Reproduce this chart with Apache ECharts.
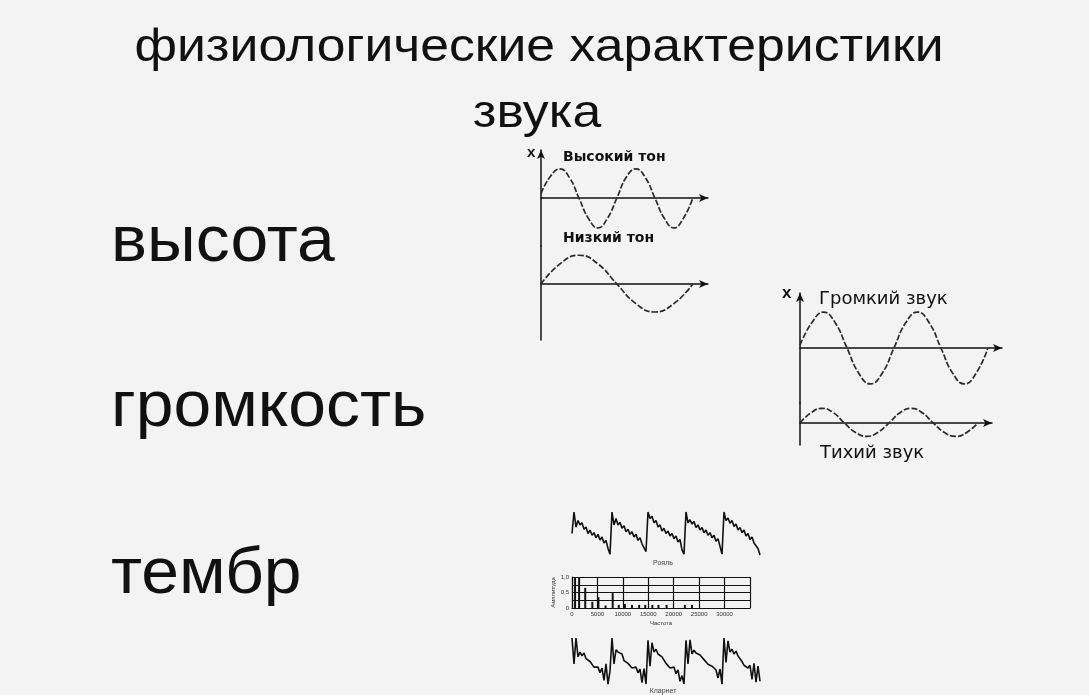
<!DOCTYPE html>
<html>
<head>
<meta charset="utf-8">
<title>физиологические характеристики звука</title>
<script src="https://cdn.jsdelivr.net/npm/echarts@6/dist/echarts.min.js"></script>
<style>
  html, body { margin: 0; padding: 0; background: #f3f3f3; }
  #main { width: 1089px; height: 695px; }
</style>
</head>
<body>
<div id="main"></div>
<script>
// --- данные ---
// высокий / низкий тон, время в периодах высокого тона
const highToneT = [0, 0.125, 0.25, 0.375, 0.5, 0.625, 0.75, 0.875, 1, 1.125, 1.25, 1.375, 1.5, 1.625, 1.75, 1.875, 2];
const highToneX = [0.15, 0.75, 1, 0.7, 0, -0.7, -1.03, -0.7, 0, 0.72, 1, 0.7, 0, -0.7, -1.03, -0.7, 0];
const lowToneT = [0, 0.25, 0.5, 0.75, 1, 1.25, 1.5, 1.75, 2];
const lowToneX = [0, 0.72, 1.03, 0.72, 0, -0.7, -1, -0.7, 0];

// громкий / тихий звук
const loudT = [0, 0.125, 0.25, 0.375, 0.5, 0.625, 0.75, 0.875, 1, 1.125, 1.25, 1.375, 1.5, 1.625, 1.75, 1.875, 2];
const loudX = [0.08, 0.7, 1, 0.7, 0, -0.7, -1, -0.7, 0, 0.7, 1, 0.7, 0, -0.7, -1, -0.7, 0];
const quietT = [0, 0.125, 0.25, 0.375, 0.5, 0.625, 0.75, 0.875, 1, 1.125, 1.25, 1.375, 1.5, 1.625, 1.75, 1.875, 2];
const quietX = [0, 0.29, 0.41, 0.29, 0, -0.26, -0.37, -0.26, 0, 0.29, 0.41, 0.29, 0, -0.26, -0.37, -0.26, 0];

// тембр: осциллограммы (шаг ~2 px), 0 = низ, 10 = верх
const pianoWave = [
  5, 10, 6.5, 8, 7, 7.5, 6, 6.5, 5, 5.8, 4.6, 5.2, 4, 4.8, 3.5, 4.2, 2.8, 3.4, 1.5, 0.2,
  10, 7, 8.5, 7, 7.6, 6.2, 6.8, 5.4, 6, 4.8, 5.4, 4.2, 4.8, 3.4, 4, 2.6, 3, 0.8,
  10, 8.5, 9, 7.5, 8, 6.5, 7, 5.6, 6.2, 5, 5.6, 4.4, 5, 3.8, 4.4, 3, 3.6, 1.2, 0.2,
  10, 7.5, 8.2, 7.2, 7.8, 6.4, 7, 5.8, 6.4, 5.2, 5.8, 4.6, 5.2, 4, 4.6, 3.2, 3.8, 2, 0.2,
  10, 8, 8.6, 7.4, 8, 6.6, 7.2, 5.8, 6.4, 5.2, 5.8, 4.4, 5, 3.6, 4.2, 2.8, 3.2, 1.5, 0
];
const clarinetWave = [
  10, 4.5, 10, 6, 7, 6.2, 6.8, 5.6, 5.8, 5, 4.8, 3.8, 3.4, 3.8, 2.6, 3.6, 1, 4.5, 0.2, 3,
  10, 4.5, 7.5, 7, 6.6, 6.6, 5.2, 5, 4.6, 4.6, 3.6, 3.2, 3.8, 2.6, 3.4, 0.5, 3.5, 0.2,
  9.5, 4, 9, 7, 7.6, 6.6, 7, 6, 5.6, 4.6, 4.4, 3.6, 3.2, 3.8, 2.4, 3.2, 0.8, 2, 0.2,
  9.5, 4.5, 9.6, 6.6, 7.4, 6.8, 7.2, 6.4, 6, 5.4, 5.6, 4.4, 4.6, 4, 3.6, 3.2, 1.5, 3.4, 0.2,
  10, 4.8, 9.4, 7, 7.6, 6.6, 7.2, 6.2, 5.6, 5, 4.2, 4.6, 3.6, 4.2, 1.2, 4.6, 0.6, 4, 0.8
];

// спектр
const specFreq = [600, 1400, 2600, 4000, 5200, 6600, 8000, 9200, 10400, 11800, 13200, 14400, 15800, 17000, 18600, 22200, 23600];
const specAmp = [1.0, 1.0, 0.65, 0.2, 0.35, 0.08, 0.48, 0.1, 0.13, 0.1, 0.1, 0.1, 0.1, 0.1, 0.1, 0.1, 0.1];

const FONT = '"Liberation Sans", Arial, sans-serif';
const FONT_WIDE = '"DejaVu Sans", "Liberation Sans", sans-serif';
const INK = '#111';
const WAVE = '#2b2b2b';

const zip = (a, b) => a.map((v, i) => [v, b[i]]);

function arrowAxisLine(withArrow) {
  return {
    show: true,
    onZero: true,
    symbol: withArrow ? ['none', 'arrow'] : 'none',
    symbolSize: [6, 9],
    lineStyle: { color: INK, width: 1.5 }
  };
}

function sineX(gridIndex, max) {
  return {
    gridIndex, type: 'value', min: 0, max,
    axisLine: arrowAxisLine(true),
    axisTick: { show: false }, axisLabel: { show: false }, splitLine: { show: false }
  };
}
function sineY(gridIndex, min, max, withArrow) {
  return {
    gridIndex, type: 'value', min, max,
    axisLine: Object.assign(arrowAxisLine(withArrow), { onZero: false }),
    axisTick: { show: false }, axisLabel: { show: false }, splitLine: { show: false }
  };
}
function sineSeries(name, idx, t, x) {
  return {
    name, type: 'line', xAxisIndex: idx, yAxisIndex: idx,
    data: zip(t, x), smooth: true, showSymbol: false,
    lineStyle: { color: WAVE, width: 1.7, type: [6, 2] }
  };
}
function hiddenCat(gridIndex, n) {
  return { gridIndex, type: 'category', boundaryGap: false, data: n.map((_, i) => i), show: false };
}
function hiddenVal(gridIndex) {
  return { gridIndex, type: 'value', min: 0, max: 10, show: false };
}

// текст слайда немного растянут по горизонтали
function txt(text, x, y, size, opts) {
  return {
    type: 'text', x, y, silent: true,
    scaleX: (opts && opts.scaleX) || 1,
    style: Object.assign({
      text, fontSize: size, fontFamily: FONT, fill: INK,
      align: 'left', verticalAlign: 'middle'
    }, opts && opts.style)
  };
}

const chart = echarts.init(document.getElementById('main'));

chart.setOption({
  backgroundColor: '#f3f3f3',
  animation: false,
  grid: [
    { left: 541, top: 150, width: 167, height: 96 },   // высокий тон
    { left: 541, top: 246, width: 167, height: 94 },   // низкий тон
    { left: 800, top: 293, width: 202, height: 110 },  // громкий
    { left: 800, top: 403, width: 192, height: 42 },   // тихий
    { left: 572, top: 512, width: 188, height: 43 },   // рояль
    { left: 572, top: 577, width: 178, height: 31 },   // спектр
    { left: 572, top: 638, width: 188, height: 47 }    // кларнет
  ],
  xAxis: [
    sineX(0, 2.2),
    sineX(1, 2.2),
    sineX(2, 2.15),
    sineX(3, 2.16),
    hiddenCat(4, pianoWave),
    {
      gridIndex: 5, type: 'value', min: 0, max: 35000, interval: 5000,
      axisLine: { show: true, lineStyle: { color: INK, width: 1.2 } },
      axisTick: { show: false },
      axisLabel: {
        fontSize: 6, fontFamily: FONT, color: '#333', margin: 3,
        formatter: v => (v === 35000 ? '' : String(v))
      },
      splitLine: { show: true, lineStyle: { color: INK, width: 1.2 } },
      name: 'Частота', nameLocation: 'middle', nameGap: 12,
      nameTextStyle: { fontSize: 6, fontFamily: FONT, color: '#333' }
    },
    hiddenCat(6, clarinetWave)
  ],
  yAxis: [
    sineY(0, -1.65, 1.65, true),
    sineY(1, -2.0, 1.36, false),
    sineY(2, -1.53, 1.53, true),
    sineY(3, -0.61, 0.56, false),
    hiddenVal(4),
    {
      gridIndex: 5, type: 'value', min: 0, max: 1, interval: 0.25,
      axisLine: { show: true, lineStyle: { color: INK, width: 1.2 } },
      axisTick: { show: false },
      axisLabel: {
        fontSize: 6, fontFamily: FONT, color: '#333', margin: 3,
        formatter: v => (v === 0 ? '0' : v === 0.5 ? '0,5' : v === 1 ? '1,0' : '')
      },
      splitLine: { show: true, lineStyle: { color: INK, width: 1 } },
      name: 'Амплитуда', nameLocation: 'middle', nameGap: 13, nameRotate: 90,
      nameTextStyle: { fontSize: 6, fontFamily: FONT, color: '#333' }
    },
    hiddenVal(6)
  ],
  series: [
    sineSeries('Высокий тон', 0, highToneT, highToneX),
    sineSeries('Низкий тон', 1, lowToneT, lowToneX),
    sineSeries('Громкий звук', 2, loudT, loudX),
    sineSeries('Тихий звук', 3, quietT, quietX),
    {
      name: 'Рояль', type: 'line', xAxisIndex: 4, yAxisIndex: 4,
      data: pianoWave, showSymbol: false,
      lineStyle: { color: INK, width: 1.6 }
    },
    {
      name: 'Спектр', type: 'bar', xAxisIndex: 5, yAxisIndex: 5,
      data: zip(specFreq, specAmp), barWidth: 2,
      itemStyle: { color: INK }
    },
    {
      name: 'Кларнет', type: 'line', xAxisIndex: 6, yAxisIndex: 6,
      data: clarinetWave, showSymbol: false,
      lineStyle: { color: INK, width: 1.6 }
    }
  ],
  graphic: [
    txt('физиологические характеристики', 539, 48, 47, { scaleX: 1.1, style: { align: 'center' } }),
    txt('звука', 537, 114, 47, { scaleX: 1.1, style: { align: 'center' } }),
    txt('высота', 111, 243, 64, { scaleX: 1.06 }),
    txt('громкость', 111, 408, 64, { scaleX: 1.06 }),
    txt('тембр', 111, 575, 64, { scaleX: 1.06 }),
    txt('x', 527, 153, 15, { style: { fontWeight: 'bold' } }),
    txt('Высокий тон', 563, 157, 14, { style: { fontWeight: 'bold', fontFamily: FONT_WIDE } }),
    txt('Низкий тон', 563, 238, 14, { style: { fontWeight: 'bold', fontFamily: FONT_WIDE } }),
    txt('x', 782, 293, 17, { style: { fontWeight: 'bold' } }),
    txt('Громкий звук', 819, 299, 18, { style: { fontFamily: FONT_WIDE } }),
    txt('Тихий звук', 820, 453, 18, { style: { fontFamily: FONT_WIDE } }),
    txt('Рояль', 663, 563, 7, { style: { align: 'center', fill: '#444' } }),
    txt('Кларнет', 663, 691, 7, { style: { align: 'center', fill: '#444' } })
  ]
});
</script>
</body>
</html>
